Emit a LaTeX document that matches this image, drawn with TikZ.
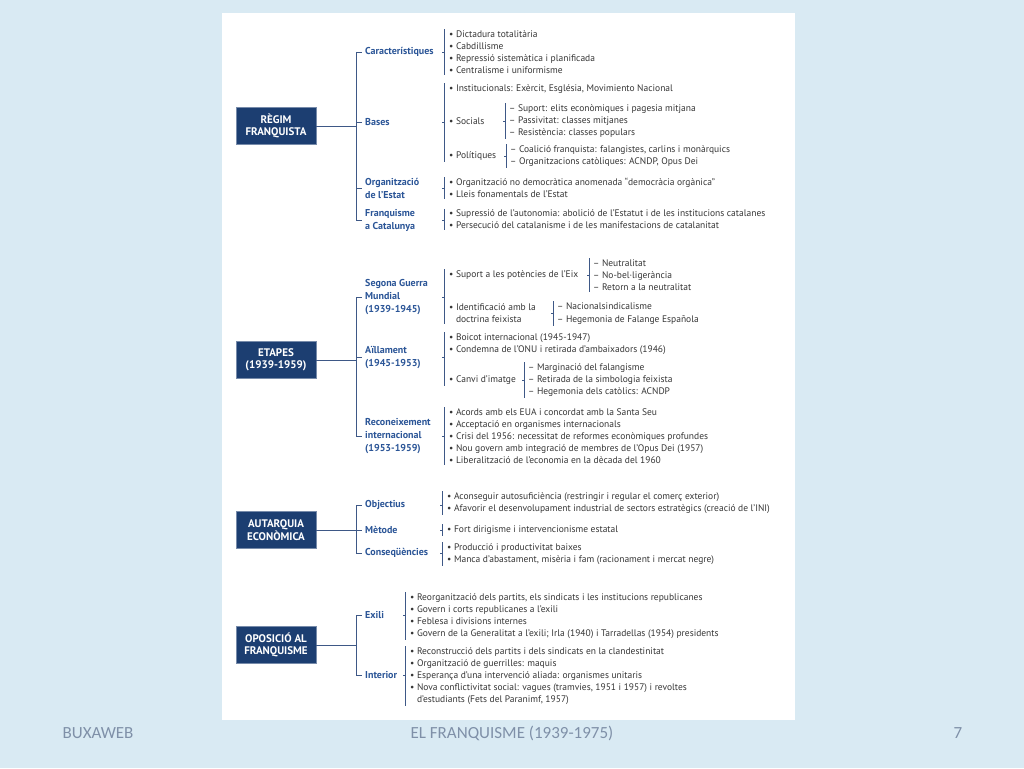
\documentclass[tikz,border=0pt]{standalone}
\usepackage{fontspec}
\setmainfont{PT Sans}
\newfontfamily\footfont{Carlito}
\usepackage{xcolor}
\usepackage{tikz}
\usetikzlibrary{calc,positioning}

\definecolor{slide}{HTML}{D9EAF3}
\definecolor{navy}{HTML}{1C3E71}
\definecolor{catblue}{HTML}{2B5597}
\definecolor{linkblue}{HTML}{3E5886}
\definecolor{itemgray}{HTML}{363636}
\definecolor{footgray}{HTML}{7F90A8}

\tikzset{
  topic/.style={fill=navy, draw=navy!60!white, line width=0.6pt, text=white,
    font=\bfseries\fontsize{11}{12.5}\selectfont, align=center,
    minimum width=80pt, minimum height=37pt, inner sep=2pt},
  cat/.style={anchor=west, text=catblue, font=\bfseries\fontsize{10}{13}\selectfont,
    align=left, inner xsep=3pt, inner ysep=1pt},
  item/.style={anchor=west, text=itemgray, font=\fontsize{9.5}{12}\selectfont,
    align=left, inner xsep=5pt, inner ysep=1pt},
  link/.style={draw=linkblue, line width=0.9pt},
  bar/.style={draw=linkblue, line width=0.8pt},
  foot/.style={text=footgray, font=\footfont\fontsize{17}{20}\selectfont},
}

% bar left of a list: first node, last node, parent
\newcommand{\lbar}[3]{%
  \draw[bar] (#1.north west) -- (#1.north west |- #2.south west);
  \draw[bar] (#1.west |- #3.west) -- ++(-2.5,0);
}

\begin{document}
\begin{tikzpicture}[x=1pt, y=-1pt]

    \useasboundingbox (0,0) rectangle (1024,768);
    \fill[slide] (0,0) rectangle (1024,768);
    \fill[white] (222,13) rectangle (795,720);

    % Footer
    \node[foot] (fl) at (98,733) {BUXAWEB};
    \node[foot] (fm) at (512,733) {EL FRANQUISME (1939-1975)};
    \node[foot] (fr) at (958,733) {7};

    % Trunk
    \coordinate (tA) at (356,0);

    % Regim franquista
    \node[topic] (regim) at (276,126) {RÈGIM\\FRANQUISTA};
    \node[cat] (car) at (362,52) {Característiques};
    \node[cat] (bas) at (362,122) {Bases};
    \node[cat] (org) at (362,188) {Organització\\de l'Estat};
    \node[cat] (fra) at (362,220) {Franquisme\\a Catalunya};

    \draw[link] (regim.east) -- (regim.east -| tA);
    \draw[link] (car.west -| tA) -- (fra.west -| tA);
    \foreach \c in {car,bas,org,fra}
        \draw[link] (\c.west -| tA) -- (\c.west);

    \node[item] (carL) at (444,52) {• Dictadura totalitària\\• Cabdillisme\\• Repressió sistemàtica i planificada\\• Centralisme i uniformisme};
    \lbar{carL}{carL}{car}

    \node[item] (ins) at (444,89) {• Institucionals: Exèrcit, Església, Movimiento Nacional};
    \node[item] (soc) at (444,121) {• Socials};
    \node[item] (pol) at (444,156) {• Polítiques};
    \lbar{ins}{pol}{bas}

    \node[item, inner xsep=4pt] (socL) at (505,121) {– Suport: elits econòmiques i pagesia mitjana\\– Passivitat: classes mitjanes\\– Resistència: classes populars};
    \lbar{socL}{socL}{soc}
    \node[item, inner xsep=4pt] (polL) at (506,156) {– Coalició franquista: falangistes, carlins i monàrquics\\– Organitzacions catòliques: ACNDP, Opus Dei};
    \lbar{polL}{polL}{pol}

    \node[item] (orgL) at (444,188) {• Organització no democràtica anomenada “democràcia orgànica”\\• Lleis fonamentals de l'Estat};
    \lbar{orgL}{orgL}{org}
    \node[item] (fraL) at (444,219.5) {• Supressió de l'autonomia: abolició de l'Estatut i de les institucions catalanes\\• Persecució del catalanisme i de les manifestacions de catalanitat};
    \lbar{fraL}{fraL}{fra}

    % Etapes
    \node[topic] (etapes) at (276,360) {ETAPES\\(1939-1959)};
    \node[cat] (sgm) at (362,297) {Segona Guerra\\Mundial\\(1939-1945)};
    \node[cat] (ail) at (362,357.5) {Aïllament\\(1945-1953)};
    \node[cat] (rec) at (362,436) {Reconeixement\\internacional\\(1953-1959)};

    \draw[link] (etapes.east) -- (etapes.east -| tA);
    \draw[link] (sgm.west -| tA) -- (rec.west -| tA);
    \foreach \c in {sgm,ail,rec}
        \draw[link] (\c.west -| tA) -- (\c.west);

    \node[item] (sup) at (444,275) {• Suport a les potències de l'Eix};
    \node[item] (ide) at (444,313.5) {• Identificació amb la\\\phantom{• }doctrina feixista};
    \lbar{sup}{ide}{sgm}
    \node[item, inner xsep=4pt] (supL) at (589,275) {– Neutralitat\\– No-bel·ligerància\\– Retorn a la neutralitat};
    \lbar{supL}{supL}{sup}
    \node[item, inner xsep=4pt, font=\fontsize{9.5}{13}\selectfont] (ideL) at (553,313.5) {– Nacionalsindicalisme\\– Hegemonia de Falange Española};
    \lbar{ideL}{ideL}{ide}

    \node[item] (aiL) at (444,344) {• Boicot internacional (1945-1947)\\• Condemna de l'ONU i retirada d'ambaixadors (1946)};
    \node[item] (can) at (444,380) {• Canvi d'imatge};
    \lbar{aiL}{can}{ail}
    \node[item, inner xsep=4pt] (canL) at (524,380) {– Marginació del falangisme\\– Retirada de la simbologia feixista\\– Hegemonia dels catòlics: ACNDP};
    \lbar{canL}{canL}{can}

    \node[item] (recL) at (444,436) {• Acords amb els EUA i concordat amb la Santa Seu\\• Acceptació en organismes internacionals\\• Crisi del 1956: necessitat de reformes econòmiques profundes\\• Nou govern amb integració de membres de l'Opus Dei (1957)\\• Liberalització de l'economia en la dècada del 1960};
    \lbar{recL}{recL}{rec}

    % Autarquia
    \node[topic] (autar) at (276,530) {AUTARQUIA\\ECONÒMICA};
    \node[cat] (obj) at (362,505) {Objectius};
    \node[cat] (met) at (362,530) {Mètode};
    \node[cat] (con) at (362,553) {Conseqüències};

    \draw[link] (autar.east) -- (autar.east -| tA);
    \draw[link] (obj.west -| tA) -- (con.west -| tA);
    \foreach \c in {obj,met,con}
        \draw[link] (\c.west -| tA) -- (\c.west);

    \node[item] (objL) at (442,503) {• Aconseguir autosuficiència (restringir i regular el comerç exterior)\\• Afavorir el desenvolupament industrial de sectors estratègics (creació de l'INI)};
    \lbar{objL}{objL}{obj}
    \node[item] (metL) at (442,530) {• Fort dirigisme i intervencionisme estatal};
    \lbar{metL}{metL}{met}
    \node[item] (conL) at (442,554) {• Producció i productivitat baixes\\• Manca d'abastament, misèria i fam (racionament i mercat negre)};
    \lbar{conL}{conL}{con}

    % Oposicio
    \node[topic] (oposi) at (276,645) {OPOSICIÓ AL\\FRANQUISME};
    \node[cat] (exi) at (362,615) {Exili};
    \node[cat] (int) at (362,675) {Interior};

    \draw[link] (oposi.east) -- (oposi.east -| tA);
    \draw[link] (exi.west -| tA) -- (int.west -| tA);
    \foreach \c in {exi,int}
        \draw[link] (\c.west -| tA) -- (\c.west);

    \node[item] (exiL) at (405,616) {• Reorganització dels partits, els sindicats i les institucions republicanes\\• Govern i corts republicanes a l'exili\\• Feblesa i divisions internes\\• Govern de la Generalitat a l'exili; Irla (1940) i Tarradellas (1954) presidents};
    \lbar{exiL}{exiL}{exi}
    \node[item] (intL) at (405,676) {• Reconstrucció dels partits i dels sindicats en la clandestinitat\\• Organització de guerrilles: maquis\\• Esperança d'una intervenció aliada: organismes unitaris\\• Nova conflictivitat social: vagues (tramvies, 1951 i 1957) i revoltes\\\phantom{• }d'estudiants (Fets del Paranimf, 1957)};
    \lbar{intL}{intL}{int}

\end{tikzpicture}
\end{document}
